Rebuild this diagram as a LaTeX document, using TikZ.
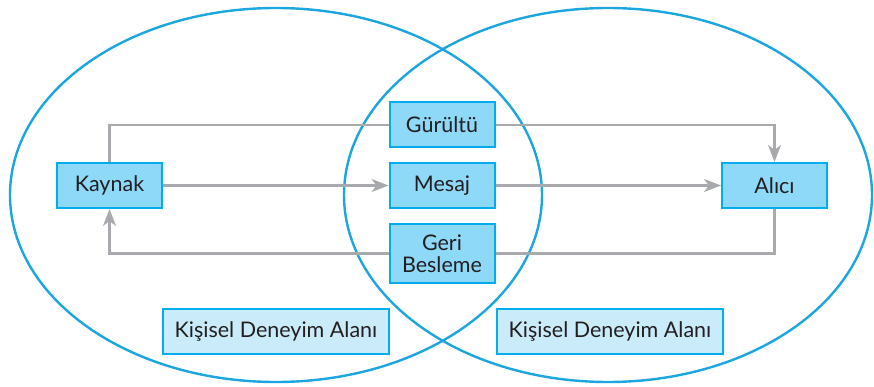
\documentclass[tikz,border=0pt]{standalone}
\usepackage{fontspec}
\setmainfont{Lato}
\usetikzlibrary{arrows.meta}
\definecolor{ringblue}{HTML}{1BA6E0}
\definecolor{boxedge}{HTML}{00AEEF}
\definecolor{boxfill}{HTML}{8ED8F8}
\definecolor{panelfill}{HTML}{C9EBFA}
\definecolor{flowgray}{HTML}{A7A9AC}
\definecolor{ink}{HTML}{231F20}
\begin{document}
\begin{tikzpicture}[x=1pt,y=-1pt,
  ring/.style={draw=ringblue, line width=2.4pt},
  box/.style={draw=boxedge, fill=boxfill, line width=2pt, text=ink,
    font=\fontsize{21.5}{22}\selectfont, align=center, inner sep=0pt,
    minimum width=105pt, minimum height=45pt},
  panel/.style={box, fill=panelfill, minimum width=226pt},
  flow/.style={draw=flowgray, line width=2.4pt},
  tip/.style={-{Stealth[length=17pt,width=13pt,inset=5pt]}}
]
\useasboundingbox (0,0) rectangle (874,387);

% the two overlapping fields of experience
\draw[ring] (276,195) ellipse [x radius=266pt, y radius=187pt];
\draw[ring] (608,195) ellipse [x radius=264pt, y radius=187pt];

% communication elements
\node[box] (kaynak) at (109.5,185.5) {Kaynak};
\node[box] (gurultu) at (442,125) {Gürültü};
\node[box] (mesaj) at (442,185.5) {Mesaj};
\node[box, minimum height=59pt] (geri) at (442,253.5) {Geri\\Besleme};
\node[box] (alici) at (774.5,185.5) {Alıcı};

\node[panel] (alanA) at (276,331.5) {Kişisel Deneyim Alanı};
\node[panel] (alanB) at (610,331.5) {Kişisel Deneyim Alanı};

% flows between elements
\draw[flow] (kaynak.north) |- (gurultu.west);
\draw[flow,tip] (gurultu.east) -| (alici.north);
\draw[flow,tip] (kaynak.east) -- (mesaj.west);
\draw[flow,tip] (mesaj.east) -- (alici.west);
\draw[flow] (alici.south) |- (geri.east);
\draw[flow,tip] (geri.west) -| (kaynak.south);
\end{tikzpicture}
\end{document}
